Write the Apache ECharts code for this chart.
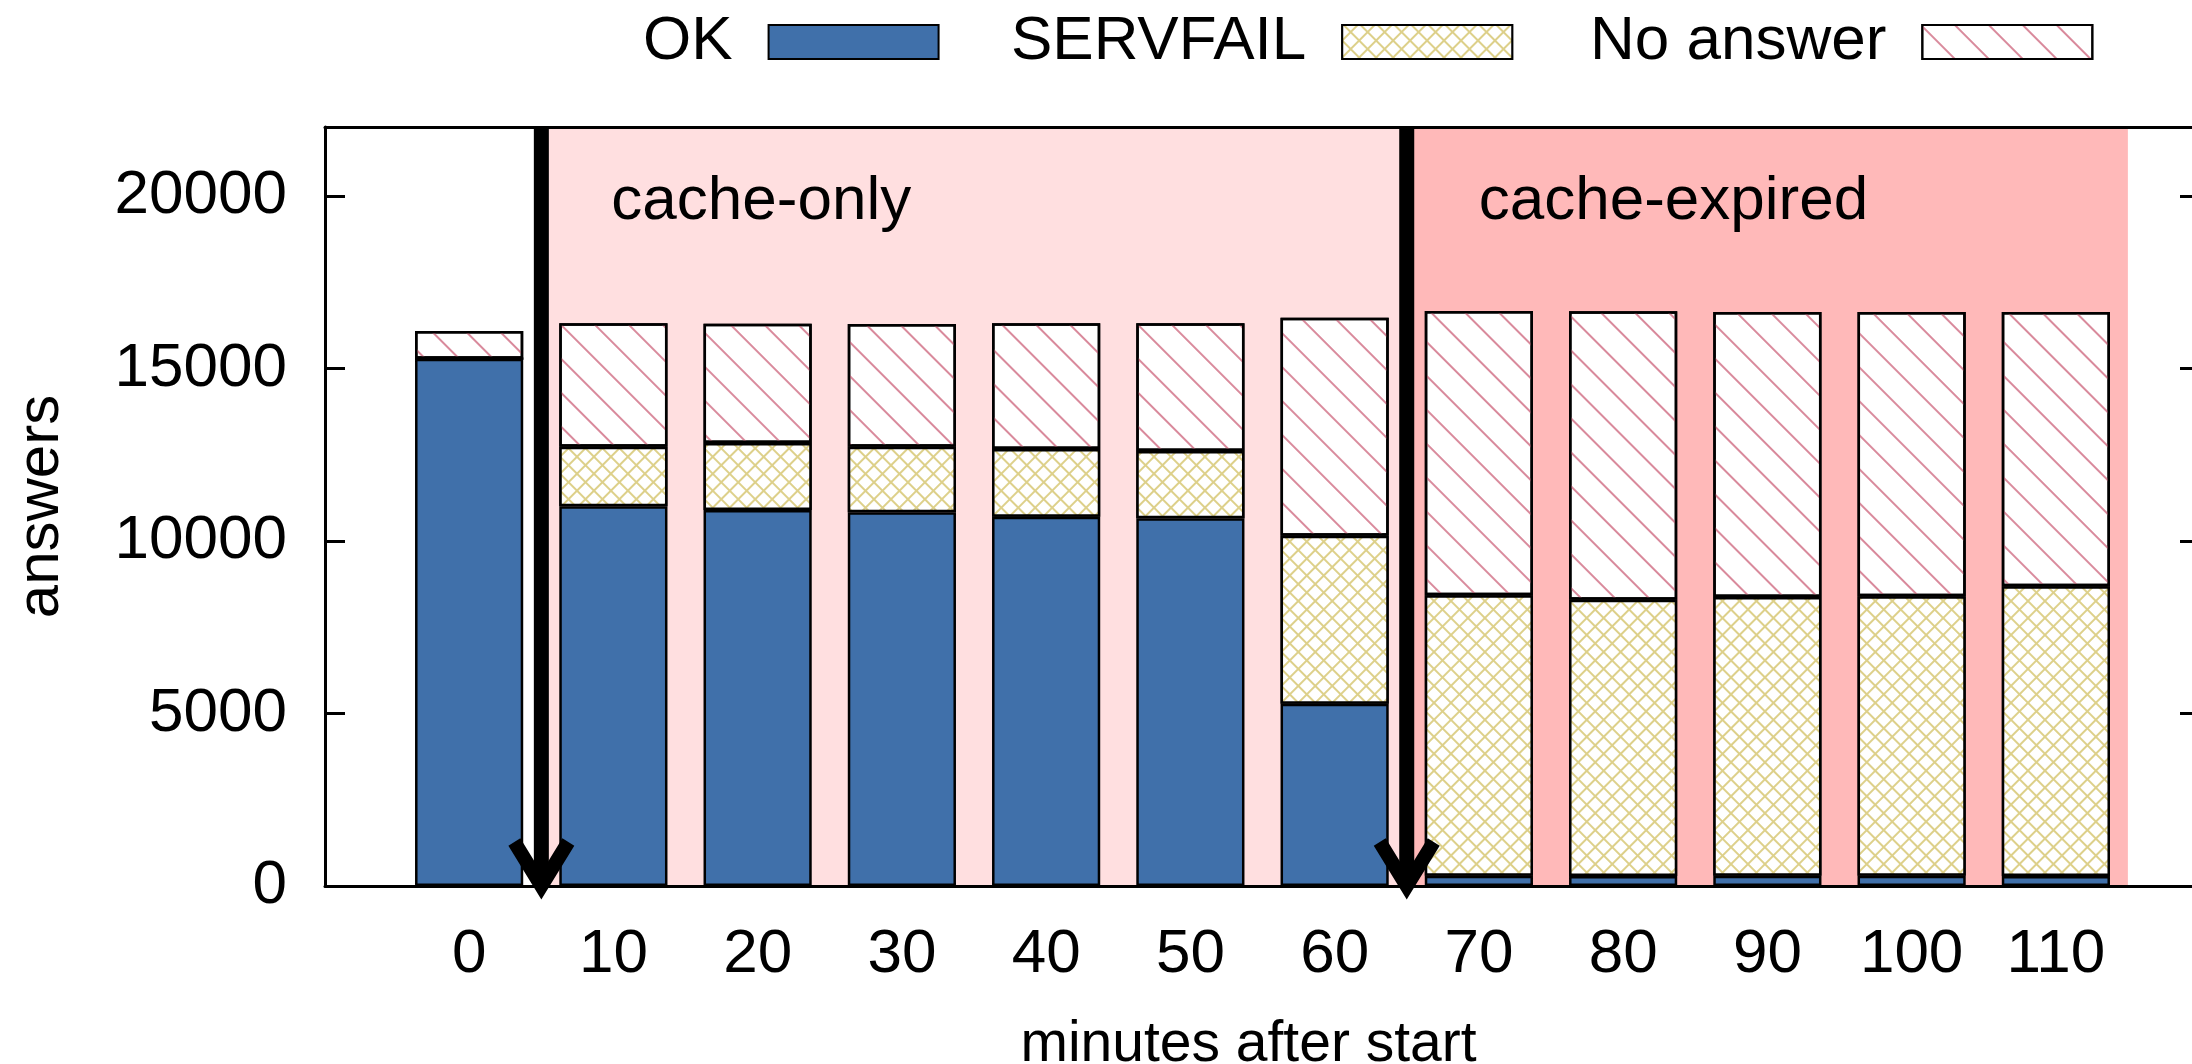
<!DOCTYPE html>
<html>
<head>
<meta charset="utf-8">
<script src="https://cdn.jsdelivr.net/npm/echarts@6/dist/echarts.min.js"></script>
<style>
html,body{margin:0;padding:0;background:#fff;}
#chart{width:2192px;height:1064px;}
</style>
</head>
<body>
<div id="chart"></div>
<script>
// ---- data ----
const minutes = ['0', '10', '20', '30', '40', '50', '60', '70', '80', '90', '100', '110'];
const okValues = [15280, 11010, 10900, 10830, 10700, 10660, 5280, 300, 290, 300, 300, 290];
const servfailValues = [0, 1720, 1940, 1900, 1970, 1950, 4870, 8130, 8010, 8080, 8100, 8400];
const noAnswerValues = [810, 3580, 3460, 3560, 3640, 3700, 6320, 8240, 8360, 8260, 8240, 7950];
const seriesNames = ['OK', 'SERVFAIL', 'No answer'];
const phaseNames = ['cache-only', 'cache-expired'];
const phaseStarts = [5, 65];
const phaseEnds = [65, 115];
const arrowMinutes = [5, 65];
const yMin = 0, yMax = 22000, yStep = 5000;
const xMin = -10, xMax = 120, xStep = 10;

const FONT = 'Liberation Sans';
const FS = 62;

const chart = echarts.init(document.getElementById('chart'), null, {renderer: 'canvas'});

const gridTop = 127, gridBottom = 178;

const barCommon = {
  type: 'bar',
  stack: 'total',
  barWidth: '75%',
  xAxisIndex: 2,
  yAxisIndex: 2,
  z: 3,
  emphasis: {disabled: true}
};

const legendCommon = {
  top: 11,
  align: 'right',
  itemWidth: 170,
  itemHeight: 34,
  icon: 'rect',
  selectedMode: false,
  padding: 0,
  textStyle: {fontFamily: FONT, fontSize: FS, color: '#000', padding: [0, 31, 0, 0]}
};

const option = {
  animation: false,
  backgroundColor: '#fff',
  textStyle: {fontFamily: FONT},
  grid: [
    {left: 325, right: -8, top: gridTop, bottom: gridBottom, outerBoundsMode: 'none', containLabel: false},
    {left: 397, right: 64, top: gridTop, bottom: gridBottom, outerBoundsMode: 'none', containLabel: false}
  ],
  legend: [
    Object.assign({}, legendCommon, {data: [seriesNames[0]], left: 643}),
    Object.assign({}, legendCommon, {data: [seriesNames[1]], left: 1011}),
    Object.assign({}, legendCommon, {data: [seriesNames[2]], left: 1590})
  ],
  xAxis: [{
    type: 'value', gridIndex: 0,
    min: xMin, max: xMax, interval: xStep,
    position: 'bottom',
    z: 10,
    axisLine: {show: true, onZero: false, lineStyle: {color: '#000', width: 3}},
    axisTick: {show: false},
    axisLabel: {show: false},
    splitLine: {show: false}
  }, {
    type: 'value', gridIndex: 0,
    min: xMin, max: xMax, interval: xStep,
    position: 'top',
    z: 10,
    axisLine: {show: true, onZero: false, lineStyle: {color: '#000', width: 3}},
    axisTick: {show: false},
    axisLabel: {show: false},
    splitLine: {show: false}
  }, {
    type: 'category', gridIndex: 1,
    data: minutes,
    boundaryGap: true,
    position: 'bottom',
    z: 10,
    name: 'minutes after start',
    nameLocation: 'middle',
    nameGap: 131,
    nameTextStyle: {fontFamily: FONT, fontSize: 57, color: '#000', padding: [0, 28, 0, 0]},
    axisLine: {show: false},
    axisTick: {show: false},
    splitLine: {show: false},
    axisLabel: {fontFamily: FONT, fontSize: FS, color: '#000', margin: 38, interval: 0}
  }],
  yAxis: [{
    type: 'value', gridIndex: 0,
    min: yMin, max: yMax, interval: yStep,
    position: 'left',
    z: 10,
    name: 'answers',
    nameLocation: 'middle',
    nameGap: 254,
    nameRotate: 90,
    nameTextStyle: {fontFamily: FONT, fontSize: 60, color: '#000'},
    axisLine: {show: true, onZero: false, lineStyle: {color: '#000', width: 3}},
    axisTick: {show: true, inside: true, length: 20, lineStyle: {color: '#000', width: 3}},
    splitLine: {show: false},
    axisLabel: {
      fontFamily: FONT, fontSize: FS, color: '#000', margin: 38,
      showMaxLabel: false,
      formatter: v => (v % yStep === 0 ? String(v) : '')
    }
  }, {
    type: 'value', gridIndex: 0,
    min: yMin, max: yMax, interval: yStep,
    position: 'right',
    z: 10,
    axisLine: {show: true, onZero: false, lineStyle: {color: '#000', width: 3}},
    axisTick: {show: true, inside: true, length: 20, lineStyle: {color: '#000', width: 3}},
    axisLabel: {show: false},
    splitLine: {show: false}
  }, {
    type: 'value', gridIndex: 1,
    min: yMin, max: yMax, interval: yStep,
    show: false
  }],
  series: [
    {
      name: 'phases',
      type: 'line',
      xAxisIndex: 0, yAxisIndex: 0,
      data: [],
      z: 1,
      silent: true,
      markArea: {
        silent: true,
        label: {
          show: true, position: 'insideTopLeft', distance: 0,
          fontFamily: FONT, fontSize: FS, color: '#000'
        },
        data: phaseNames.map((n, i) => [
          {name: n, xAxis: phaseStarts[i],
           itemStyle: {color: i === 0 ? '#ffdfe0' : '#ffb9b9'},
           label: {padding: [44, 0, 0, i === 0 ? 70 : 72]}},
          {xAxis: phaseEnds[i]}
        ])
      }
    },
    Object.assign({}, barCommon, {
      name: seriesNames[0],
      data: okValues,
      itemStyle: {color: '#4070aa', borderColor: '#000', borderWidth: 2.5}
    }),
    Object.assign({}, barCommon, {
      name: seriesNames[1],
      data: servfailValues,
      itemStyle: {
        color: '#ffffff', borderColor: '#000', borderWidth: 2.5,
        decal: {
          symbol: 'rect', symbolSize: 1,
          color: '#ffffff', backgroundColor: '#ddd08a',
          dashArrayX: [10, 1.8], dashArrayY: [10, 1.8],
          rotation: Math.PI / 4
        }
      }
    }),
    Object.assign({}, barCommon, {
      name: seriesNames[2],
      data: noAnswerValues,
      itemStyle: {
        color: '#ffffff', borderColor: '#000', borderWidth: 2.5,
        decal: {
          symbol: 'rect', symbolSize: 1,
          color: '#d98a9c',
          dashArrayX: [1, 0], dashArrayY: [2, 22],
          rotation: Math.PI / 4
        }
      }
    }),
    {
      name: 'arrows',
      type: 'custom',
      xAxisIndex: 0, yAxisIndex: 0,
      z: 8,
      clip: false,
      silent: true,
      data: arrowMinutes.map(m => [m]),
      renderItem: function (params, api) {
        const x = api.value(0);
        const top = api.coord([x, yMax]);
        const base = api.coord([x, yMin]);
        return {
          type: 'group',
          children: [
            {type: 'line', shape: {x1: top[0], y1: top[1], x2: base[0], y2: base[1] - 2},
             style: {stroke: '#000', lineWidth: 15}},
            {type: 'polyline',
             shape: {points: [[base[0] - 27, base[1] - 44], [base[0], base[1]], [base[0] + 27, base[1] - 44]]},
             style: {stroke: '#000', lineWidth: 14, fill: null, lineJoin: 'miter'}}
          ]
        };
      }
    }
  ]
};
chart.setOption(option);
</script>
</body>
</html>
